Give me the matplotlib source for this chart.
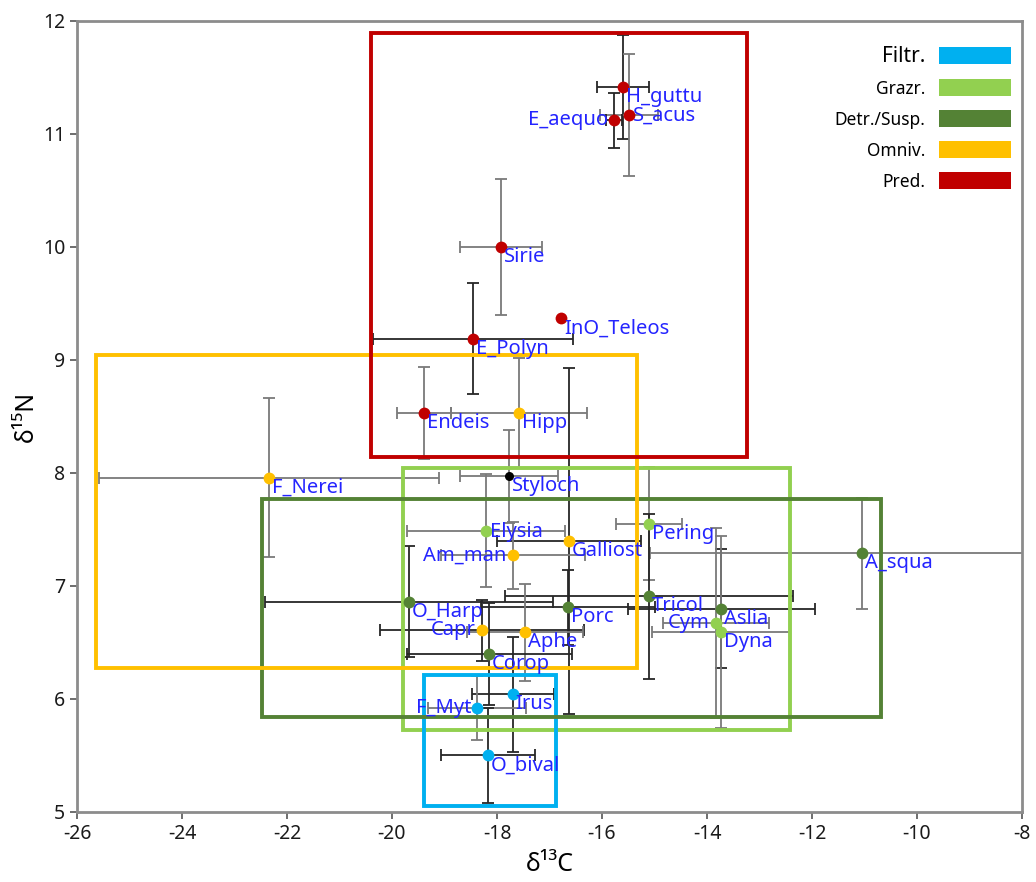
import matplotlib.pyplot as plt
from matplotlib.patches import Rectangle, Patch

plt.rcParams['font.family'] = ['Noto Sans', 'DejaVu Sans']
plt.rcParams['axes.unicode_minus'] = False

# isotope means (d13C, d15N) and standard deviations per taxon
taxa = ['H_guttu', 'S_acus', 'E_aequo', 'Sirie', 'InO_Teleos', 'E_Polyn', 'Endeis',
        'Hipp', 'F_Nerei', 'Styloch', 'Elysia', 'Galliost', 'Am_man', 'Pering',
        'A_squa', 'Tricol', 'Aslia', 'Cym', 'Dyna', 'O_Harp', 'Porc', 'Capr',
        'Aphe', 'Corop', 'Irus', 'F_Myt', 'O_bival']
d13c = [-15.60, -15.49, -15.77, -17.92, -16.78, -18.46, -19.39,
        -17.58, -22.34, -17.77, -18.21, -16.63, -17.70, -15.10,
        -11.05, -15.10, -13.73, -13.83, -13.73, -19.68, -16.65, -18.29,
        -17.47, -18.15, -17.70, -18.38, -18.17]
d15n = [11.42, 11.17, 11.12, 10.00, 9.37, 9.19, 8.53,
        8.53, 7.96, 7.97, 7.49, 7.40, 7.27, 7.55,
        7.29, 6.91, 6.80, 6.67, 6.59, 6.86, 6.81, 6.61,
        6.59, 6.40, 6.04, 5.92, 5.50]
sd13c = [0.49, 0.55, 0.15, 0.78, 0.0, 1.90, 0.52,
         1.30, 3.24, 0.94, 1.50, 1.37, 1.37, 0.63,
         4.04, 2.74, 1.78, 1.01, 1.32, 2.74, 1.65, 1.94,
         1.10, 1.57, 0.78, 0.93, 0.89]
sd15n = [0.46, 0.54, 0.24, 0.60, 0.0, 0.49, 0.41,
         0.49, 0.70, 0.41, 0.50, 1.53, 0.30, 0.50,
         0.49, 0.73, 0.53, 0.84, 0.85, 0.49, 0.33, 0.27,
         0.43, 0.45, 0.51, 0.28, 0.42]
group = ['Pred.', 'Pred.', 'Pred.', 'Pred.', 'Pred.', 'Pred.', 'Pred.',
         'Omniv.', 'Omniv.', 'other', 'Grazr.', 'Omniv.', 'Omniv.', 'Grazr.',
         'Detr./Susp.', 'Detr./Susp.', 'Detr./Susp.', 'Grazr.', 'Grazr.',
         'Detr./Susp.', 'Detr./Susp.', 'Omniv.',
         'Omniv.', 'Detr./Susp.', 'Filtr.', 'Filtr.', 'Filtr.']

# trophic guild boxes (d13C and d15N ranges)
guilds = ['Filtr.', 'Grazr.', 'Detr./Susp.', 'Omniv.', 'Pred.']
guild_c_min = [-19.39, -19.79, -22.48, -25.64, -20.40]
guild_c_max = [-16.88, -12.42, -10.69, -15.33, -13.24]
guild_n_min = [5.05, 5.73, 5.84, 6.27, 8.14]
guild_n_max = [6.21, 8.04, 7.77, 9.04, 11.89]

colors = {'Filtr.': '#00B0F0', 'Grazr.': '#92D050', 'Detr./Susp.': '#548235',
          'Omniv.': '#FFC000', 'Pred.': '#C00000', 'other': '#000000'}

# error bar shade per taxon
dark, grey = '#262626', '#7a7a7a'
ecol = [dark, grey, dark, grey, grey, dark, grey,
        grey, grey, grey, grey, dark, grey, grey,
        grey, dark, dark, grey, grey, dark, dark, dark,
        grey, dark, dark, grey, dark]

left_labels = ['E_aequo', 'Am_man', 'Capr', 'F_Myt', 'Cym']
mid_labels = ['S_acus', 'Elysia']

fig = plt.figure(figsize=(10.36, 8.82), dpi=100)
ax = fig.add_axes([77 / 1036, 70 / 882, 945 / 1036, 791 / 882])

for i in range(len(taxa)):
    ax.errorbar(d13c[i], d15n[i], xerr=sd13c[i] or None, yerr=sd15n[i] or None,
                fmt='none', ecolor=ecol[i], elinewidth=1.3, capsize=4,
                capthick=1.3, zorder=2)

# guild boxes, drawn in this stacking order
order = ['Grazr.', 'Filtr.', 'Detr./Susp.', 'Omniv.', 'Pred.']
for k, g in enumerate(order):
    j = guilds.index(g)
    ax.add_patch(Rectangle((guild_c_min[j], guild_n_min[j]),
                           guild_c_max[j] - guild_c_min[j],
                           guild_n_max[j] - guild_n_min[j],
                           fill=False, edgecolor=colors[g], linewidth=2.8,
                           zorder=3 + k * 0.1))

for i, name in enumerate(taxa):
    size = 6.5 if group[i] == 'other' else 8.5
    ax.plot(d13c[i], d15n[i], 'o', color=colors[group[i]], markersize=size,
            markeredgewidth=0, zorder=5)
    if name in left_labels:
        off, ha, va = (-6, 0), 'right', 'center'
    elif name in mid_labels:
        off, ha, va = (4, -1), 'left', 'center'
    else:
        off, ha, va = (3, 0), 'left', 'top'
    ax.annotate(name, (d13c[i], d15n[i]), xytext=off, textcoords='offset pixels',
                ha=ha, va=va, color='#2424ff', fontsize=14.5, zorder=6)

ax.set_xlim(-26, -8)
ax.set_ylim(5, 12)
ax.set_xticks(range(-26, -7, 2))
ax.set_yticks(range(5, 13))
for side in ax.spines:
    ax.spines[side].set_color('#8c8c8c')
    ax.spines[side].set_linewidth(2)
ax.tick_params(colors='#555555', labelcolor='#1a1a1a', length=5, width=1.2,
               labelsize=14)
ax.set_xlabel('δ¹³C', fontsize=18, labelpad=6)
ax.set_ylabel('δ¹⁵N', fontsize=18, labelpad=3)

handles = [Patch(facecolor=colors[g], edgecolor='none') for g in guilds]
leg = ax.legend(handles, guilds, loc='upper right', bbox_to_anchor=(0.988, 0.969),
                frameon=False, markerfirst=False, fontsize=12.5, handlelength=4.1,
                handleheight=1.15, handletextpad=0.8, labelspacing=0.72,
                borderpad=0, borderaxespad=0)
leg.get_texts()[0].set_fontsize(15)

fig.savefig('out.png', dpi=100)
